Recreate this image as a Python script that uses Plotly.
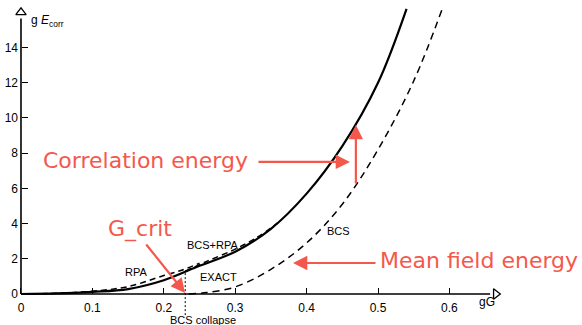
import plotly.graph_objects as go

# ---- data ----
g_exact = [0, 0.05, 0.1, 0.15, 0.2, 0.25, 0.3, 0.35, 0.4, 0.45, 0.5, 0.54]
e_exact = [0, 0.03, 0.12, 0.28, 0.78, 1.6, 2.4, 3.7, 5.7, 8.4, 12.0, 16.2]

g_rpa = [0, 0.05, 0.1, 0.15, 0.2, 0.225, 0.25]
e_rpa = [0, 0.04, 0.16, 0.42, 1.05, 1.35, 1.75]

g_bcsrpa = [0.23, 0.26, 0.3, 0.33, 0.36]
e_bcsrpa = [1.3, 1.85, 2.55, 3.2, 4.05]

g_bcs = [0.235, 0.26, 0.3, 0.35, 0.4, 0.45, 0.5, 0.55, 0.59]
e_bcs = [0, 0.08, 0.4, 1.4, 2.9, 5.1, 8.2, 12.1, 16.2]

x_ticks = [0, 0.1, 0.2, 0.3, 0.4, 0.5, 0.6]
x_ticklabels = ["0", "0.1", "0.2", "0.3", "0.4", "0.5", "0.6"]
y_ticks = [0, 2, 4, 6, 8, 10, 12, 14]
y_ticklabels = ["0", "2", "4", "6", "8", "10", "12", "14"]

g_collapse = 0.23
x_axis_end = 0.665
y_axis_end = 16.0

RED = "#F4584C"
X_RANGE = [-0.0294, 0.7857]
Y_RANGE = [-1.761, 16.70]

fig = go.Figure()

fig.add_trace(go.Scatter(x=g_exact, y=e_exact, mode="lines", line_shape="spline",
                         line=dict(color="black", width=2.2)))
fig.add_trace(go.Scatter(x=g_rpa, y=e_rpa, mode="lines", line_shape="spline",
                         line=dict(color="black", width=1.5, dash="6px,4px")))
fig.add_trace(go.Scatter(x=g_bcsrpa, y=e_bcsrpa, mode="lines", line_shape="spline",
                         line=dict(color="black", width=1.5, dash="6px,4px")))
fig.add_trace(go.Scatter(x=g_bcs, y=e_bcs, mode="lines", line_shape="spline",
                         line=dict(color="black", width=1.5, dash="7px,5px")))

# axis arrowheads (hollow)
fig.add_trace(go.Scatter(x=[x_axis_end], y=[0], mode="markers",
                         marker=dict(symbol="triangle-right-open", size=9, color="black", line=dict(width=1.3))))
fig.add_trace(go.Scatter(x=[0], y=[y_axis_end], mode="markers",
                         marker=dict(symbol="triangle-up-open", size=9, color="black", line=dict(width=1.3))))

shapes = [
    dict(type="line", xref="x", yref="y", x0=0, y0=0, x1=x_axis_end - 0.008, y1=0,
         line=dict(color="black", width=1.6)),
    dict(type="line", xref="x", yref="y", x0=0, y0=0, x1=0, y1=y_axis_end - 0.35,
         line=dict(color="black", width=1.6)),
    dict(type="line", xref="x", yref="y", x0=g_collapse, y0=-1.2, x1=g_collapse, y1=1.2,
         line=dict(color="black", width=1, dash="2px,2px")),
]

ann = []
def label(text, x, y, size=11, color="black", family="Liberation Sans, Arial, sans-serif"):
    ann.append(dict(text=text, x=x, y=y, xref="x", yref="y", showarrow=False,
                    font=dict(size=size, color=color, family=family)))

label("RPA", 0.161, 1.25)
label("BCS+RPA", 0.269, 2.78)
label("EXACT", 0.276, 0.97)
label("BCS", 0.445, 3.58)
label("BCS collapse", 0.255, -1.48)
label("g <i>E</i><sub>corr</sub>", 0.037, 15.5, size=12)
label("gG", 0.653, -0.45, size=12)

red_font = "DejaVu Sans, Verdana, sans-serif"
label("Correlation energy", 0.1737, 7.61, size=22, color=RED, family=red_font)
label("Mean field energy", 0.641, 1.93, size=22, color=RED, family=red_font)
label("G_crit", 0.1667, 3.69, size=22, color=RED, family=red_font)

def arrow(x0, y0, x1, y1):
    ann.append(dict(x=x1, y=y1, ax=x0, ay=y0, xref="x", yref="y", axref="x", ayref="y",
                    text="", showarrow=True, arrowhead=2, arrowsize=1.3, arrowwidth=2.2,
                    arrowcolor=RED))

arrow(0.3305, 7.5, 0.4608, 7.5)
arrow(0.469, 6.19, 0.469, 9.6)
arrow(0.4986, 1.76, 0.381, 1.76)
arrow(0.1737, 2.9, 0.2297, 0.06)

fig.update_layout(
    width=582, height=325,
    margin=dict(l=0, r=0, t=0, b=0),
    paper_bgcolor="white", plot_bgcolor="white",
    showlegend=False,
    shapes=shapes, annotations=ann,
    font=dict(family="Liberation Sans, Arial, sans-serif", color="black"),
    xaxis=dict(range=X_RANGE, showgrid=False, zeroline=False, showline=False,
               tickmode="array", tickvals=x_ticks, ticktext=x_ticklabels,
               ticks="inside", ticklen=6, tickwidth=1.2, tickcolor="black",
               tickfont=dict(size=12), anchor="free", ticklabelstandoff=5,
               position=(-Y_RANGE[0]) / (Y_RANGE[1] - Y_RANGE[0])),
    yaxis=dict(range=Y_RANGE, showgrid=False, zeroline=False, showline=False,
               tickmode="array", tickvals=y_ticks, ticktext=y_ticklabels,
               ticks="inside", ticklen=6, tickwidth=1.2, tickcolor="black",
               tickfont=dict(size=12), anchor="free", ticklabelstandoff=3,
               position=(-X_RANGE[0]) / (X_RANGE[1] - X_RANGE[0])),
)

fig.write_html("out.html")
